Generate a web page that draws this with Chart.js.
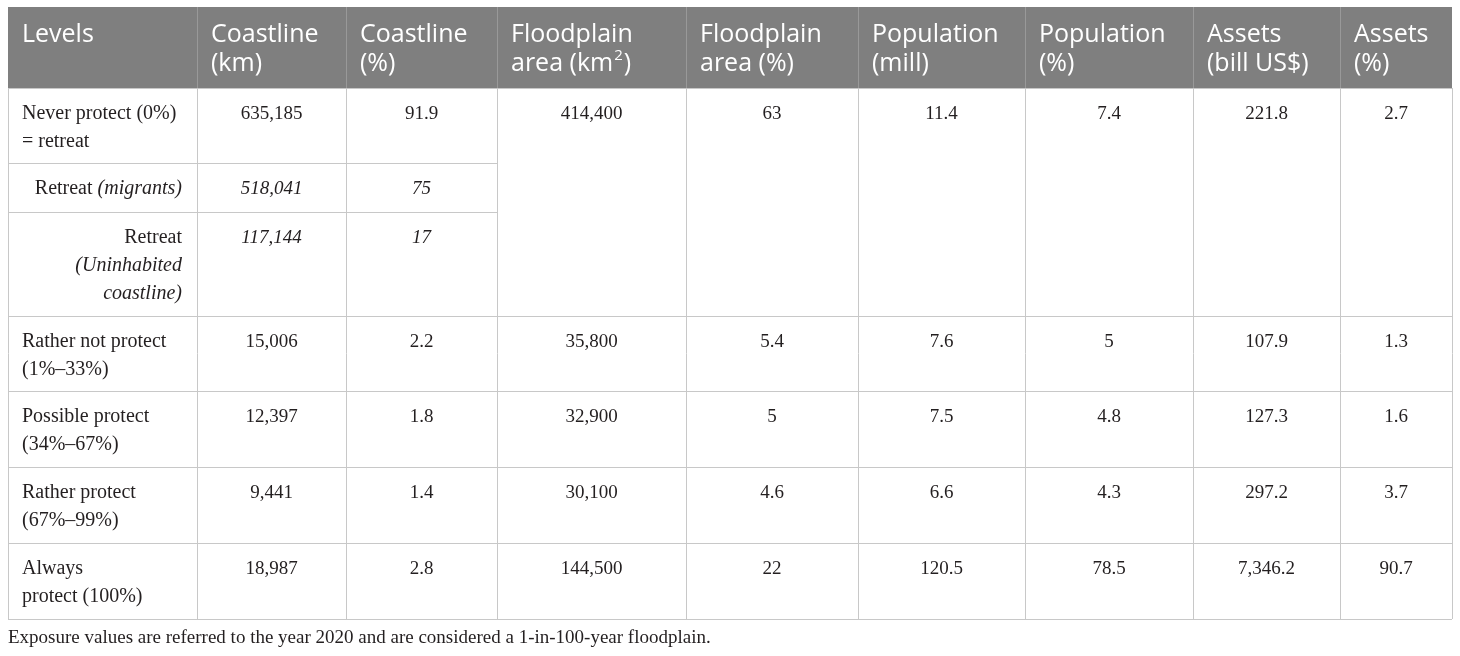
<!DOCTYPE html>
<html>
<head>
<meta charset="utf-8">
<title>Exposure by protection level</title>
<script src="https://cdn.jsdelivr.net/npm/chart.js@4.4.1/dist/chart.umd.min.js"></script>
<style>
    html, body { margin: 0; padding: 0; background: #fff; }
    #wrap { width: 1460px; height: 656px; }
</style>
</head>
<body>
<div id="wrap"><canvas id="exposureTable" width="1460" height="656"></canvas></div>
<script>
// Column headers (one array per column, one string per line, ^ marks a superscript)
const headers = [
    ['Levels'],
    ['Coastline', '(km)'],
    ['Coastline', '(%)'],
    ['Floodplain', 'area (km^2)'],
    ['Floodplain', 'area (%)'],
    ['Population', '(mill)'],
    ['Population', '(%)'],
    ['Assets', '(bill US$)'],
    ['Assets', '(%)']
];

// Row labels, *...* is italic
const levels = [
    ['Never protect (0%)', '= retreat'],
    ['Retreat *(migrants)*'],
    ['Retreat', '*(Uninhabited*', '*coastline)*'],
    ['Rather not protect', '(1%–33%)'],
    ['Possible protect', '(34%–67%)'],
    ['Rather protect', '(67%–99%)'],
    ['Always', 'protect (100%)']
];
const isSubRow = [false, true, true, false, false, false, false];

// Coastline values exist for every row (incl. the two retreat sub rows)
const coastlineKm = [635185, 518041, 117144, 15006, 12397, 9441, 18987];
const coastlinePct = [91.9, 75, 17, 2.2, 1.8, 1.4, 2.8];

// The other columns only have one value per protection level
const floodplainKm2 = [414400, 35800, 32900, 30100, 144500];
const floodplainPct = [63, 5.4, 5, 4.6, 22];
const populationMill = [11.4, 7.6, 7.5, 6.6, 120.5];
const populationPct = [7.4, 5, 4.8, 4.3, 78.5];
const assetsBill = [221.8, 107.9, 127.3, 297.2, 7346.2];
const assetsPct = [2.7, 1.3, 1.6, 3.7, 90.7];

const footnote = 'Exposure values are referred to the year 2020 and are considered a 1-in-100-year floodplain.';

// Layout (in scale units, which map 1:1 onto the canvas)
const colEdges = [8, 197, 346, 497, 686, 858, 1025, 1193, 1340, 1452];
const headerEdges = [7, 88];
const rowEdges = [88, 163, 212, 316, 391, 467, 543, 619];
const mainRows = [0, 3, 4, 5, 6]; // first body row of each protection level

const headerFont = '25px "Open Sans"';
const supFont = '15px "Open Sans"';
const labelSize = 20;
const numberSize = 19;

function fmt(v) {
    return v.toLocaleString('en-US', { maximumFractionDigits: 1 });
}

// Draws a line with *italic* pieces; align is 'left', 'right' or 'center'
function drawRich(ctx, text, x, y, align, size) {
    const regular = size + 'px "Liberation Serif"';
    const italic = 'italic ' + size + 'px "Liberation Serif"';
    const parts = text.split('*');
    let total = 0;
    parts.forEach(function(p, i) {
        ctx.font = i % 2 ? italic : regular;
        total += ctx.measureText(p).width;
    });
    let start = x;
    if (align === 'right') start = x - total;
    if (align === 'center') start = x - total / 2;
    ctx.textAlign = 'left';
    parts.forEach(function(p, i) {
        ctx.font = i % 2 ? italic : regular;
        ctx.fillText(p, start, y);
        start += ctx.measureText(p).width;
    });
}

function drawHeaderLine(ctx, text, x, y) {
    ctx.textAlign = 'left';
    const bits = text.split('^');
    ctx.font = headerFont;
    ctx.fillText(bits[0], x, y);
    if (bits.length > 1) {
        let cx = x + ctx.measureText(bits[0]).width;
        const sup = bits[1].charAt(0);
        ctx.font = supFont;
        ctx.fillText(sup, cx + 1, y - 11);
        cx += ctx.measureText(sup).width + 2;
        ctx.font = headerFont;
        ctx.fillText(bits[1].slice(1), cx, y);
    }
}

const tablePlugin = {
    id: 'tablePlugin',
    afterDraw: function(chart) {
        const ctx = chart.ctx;
        const xs = chart.scales.x;
        const ys = chart.scales.y;
        const px = function(v) { return xs.getPixelForValue(v); };
        const py = function(v) { return ys.getPixelForValue(v); };
        const left = px(colEdges[0]);
        const right = px(colEdges[colEdges.length - 1]);

        ctx.save();

        // header background
        ctx.fillStyle = '#7f7f7f';
        ctx.fillRect(left, py(headerEdges[0]), right - left, py(headerEdges[1]) - py(headerEdges[0]));

        // header dividers
        ctx.strokeStyle = '#999999';
        ctx.lineWidth = 1;
        for (let c = 1; c < colEdges.length - 1; c++) {
            ctx.beginPath();
            ctx.moveTo(Math.round(px(colEdges[c])) + 0.5, py(headerEdges[0]));
            ctx.lineTo(Math.round(px(colEdges[c])) + 0.5, py(headerEdges[1]));
            ctx.stroke();
        }

        // header text
        ctx.fillStyle = '#ffffff';
        ctx.textBaseline = 'alphabetic';
        headers.forEach(function(lines, c) {
            lines.forEach(function(line, i) {
                drawHeaderLine(ctx, line, px(colEdges[c]) + 14, py(headerEdges[0]) + 35 + i * 29);
            });
        });

        // body grid
        ctx.strokeStyle = '#c8c8c8';
        const top = py(rowEdges[0]);
        const bottom = py(rowEdges[rowEdges.length - 1]);
        for (let c = 0; c < colEdges.length; c++) {
            const x = Math.round(px(colEdges[c])) + 0.5;
            ctx.beginPath();
            ctx.moveTo(x, top);
            ctx.lineTo(x, bottom);
            ctx.stroke();
        }
        rowEdges.forEach(function(r, i) {
            const y = Math.round(py(r)) + 0.5;
            // sub row lines only cross the first three columns
            const end = (i === 1 || i === 2) ? px(colEdges[3]) : right;
            ctx.beginPath();
            ctx.moveTo(left, y);
            ctx.lineTo(end, y);
            ctx.stroke();
        });

        // body text
        ctx.fillStyle = '#231f20';
        levels.forEach(function(lines, r) {
            const base = py(rowEdges[r]) + 31;
            lines.forEach(function(line, i) {
                if (isSubRow[r]) {
                    drawRich(ctx, line, px(colEdges[1]) - 15, base + i * 28, 'right', labelSize);
                } else {
                    drawRich(ctx, line, px(colEdges[0]) + 14, base + i * 28, 'left', labelSize);
                }
            });
            const it = isSubRow[r] ? '*' : '';
            const mid1 = (px(colEdges[1]) + px(colEdges[2])) / 2;
            const mid2 = (px(colEdges[2]) + px(colEdges[3])) / 2;
            drawRich(ctx, it + fmt(coastlineKm[r]) + it, mid1, base, 'center', numberSize);
            drawRich(ctx, it + fmt(coastlinePct[r]) + it, mid2, base, 'center', numberSize);
        });

        const merged = [floodplainKm2, floodplainPct, populationMill, populationPct, assetsBill, assetsPct];
        merged.forEach(function(series, k) {
            const c = k + 3;
            const mid = (px(colEdges[c]) + px(colEdges[c + 1])) / 2;
            series.forEach(function(v, i) {
                drawRich(ctx, fmt(v), mid, py(rowEdges[mainRows[i]]) + 31, 'center', numberSize);
            });
        });

        // footnote
        ctx.font = '19px "Liberation Serif"';
        ctx.fillStyle = '#231f20';
        ctx.textAlign = 'left';
        ctx.fillText(footnote, left, py(643));

        ctx.restore();
    }
};

new Chart(document.getElementById('exposureTable').getContext('2d'), {
    type: 'scatter',
    data: { datasets: [{ data: [] }] },
    options: {
        responsive: false,
        animation: false,
        devicePixelRatio: 1,
        layout: { padding: 0 },
        plugins: { legend: { display: false }, tooltip: { enabled: false } },
        scales: {
            x: { type: 'linear', min: 0, max: 1460, display: false },
            y: { type: 'linear', min: 0, max: 656, reverse: true, display: false }
        }
    },
    plugins: [tablePlugin]
});
</script>
</body>
</html>
